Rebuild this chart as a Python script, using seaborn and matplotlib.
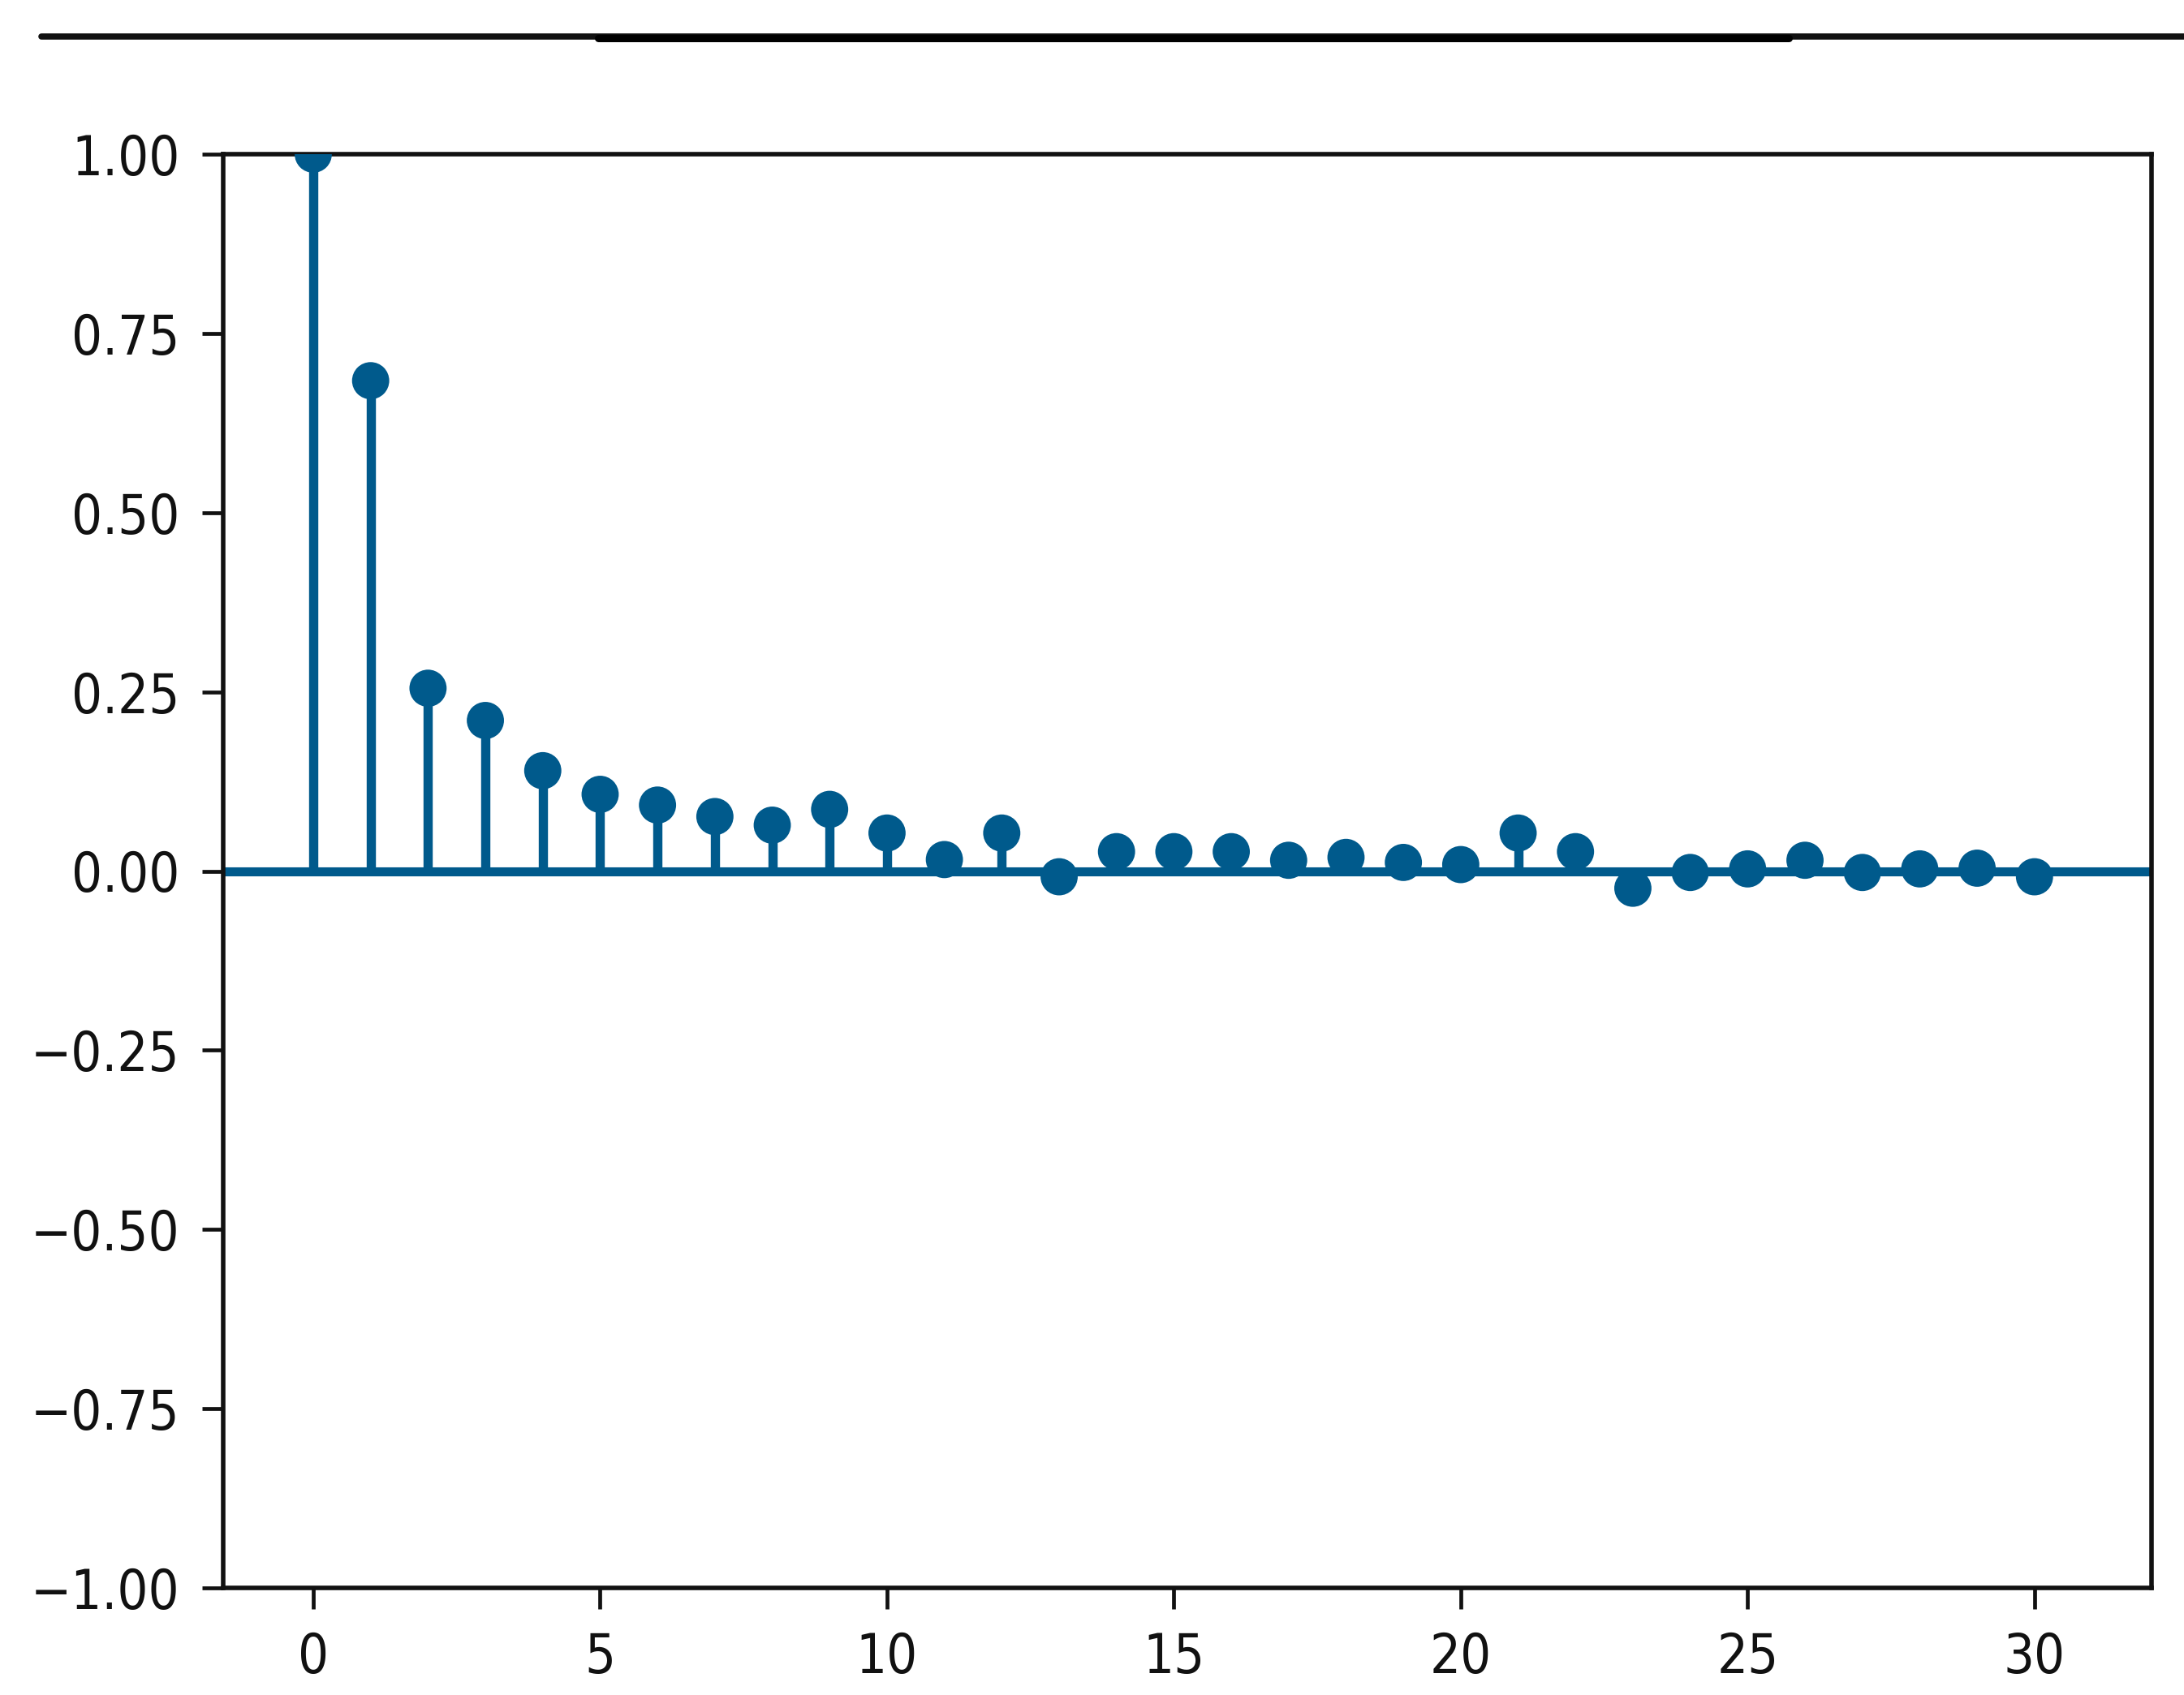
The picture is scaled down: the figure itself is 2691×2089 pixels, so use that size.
import matplotlib
matplotlib.use("Agg")
import matplotlib.pyplot as plt
import seaborn as sns
import numpy as np
import pandas as pd
from matplotlib.lines import Line2D
from matplotlib import font_manager

# ---- data ----
lags = list(range(31))
acf_values = [1.000, 0.684, 0.255, 0.210, 0.140, 0.107, 0.092, 0.076, 0.064, 0.086,
              0.053, 0.016, 0.053, -0.008, 0.027, 0.027, 0.027, 0.015, 0.019, 0.012,
              0.009, 0.053, 0.027, -0.024, -0.002, 0.003, 0.015, -0.002, 0.003, 0.004,
              -0.008]
x_ticks = [0, 5, 10, 15, 20, 25, 30]
y_ticks = [-1.00, -0.75, -0.50, -0.25, 0.00, 0.25, 0.50, 0.75, 1.00]

df = pd.DataFrame({"lag": lags, "acf": acf_values})

sns.set_style("ticks")
plt.rcParams['font.family'] = ['DejaVu Sans']

names = {f.name for f in font_manager.fontManager.ttflist}
condensed = any(f.name == "DejaVu Sans" and f.stretch in ("condensed", 300, "semi-condensed")
                for f in font_manager.fontManager.ttflist)
print("condensed available:", condensed)
if condensed:
    plt.rcParams['font.stretch'] = 'condensed'
    LABEL_SIZE = 48
else:
    LABEL_SIZE = 45

COLOR = "#005a8c"
DPI = 100
fig = plt.figure(figsize=(26.91, 20.89), dpi=DPI)
ax = fig.add_axes([275 / 2691, 1 - 1957 / 2089, (2651 - 275) / 2691, (1957 - 190) / 2089])

ax.axhline(0, color=COLOR, lw=8.0, zorder=2)
ax.vlines(df["lag"], 0, df["acf"], color=COLOR, lw=8.2, zorder=2)
sns.scatterplot(data=df, x="lag", y="acf", ax=ax, color=COLOR, s=33 ** 2,
                edgecolor="none", linewidth=0, zorder=3, legend=False)

ax.set_xlim(-1.57, 32.04)
ax.set_ylim(-1.0, 1.0)
ax.set_xticks(x_ticks)
ax.set_yticks(y_ticks)
ax.set_yticklabels([f"{v:.2f}".replace("-", "\u2212") for v in y_ticks])
ax.set_xlabel("")
ax.set_ylabel("")
ax.tick_params(axis="both", labelsize=LABEL_SIZE, length=18.5, width=3.4, pad=20, colors="#111111")
for sp in ax.spines.values():
    sp.set_visible(True)
    sp.set_linewidth(4.0)
    sp.set_color("#111111")

# top separator line seen in the reference screenshot
fig.add_artist(Line2D([51 / 2691, 1.0], [1 - 45 / 2089, 1 - 45 / 2089],
                      transform=fig.transFigure, color="#111111", lw=5.5))
fig.add_artist(Line2D([737 / 2691, 2204 / 2691], [1 - 47 / 2089, 1 - 47 / 2089],
                      transform=fig.transFigure, color="#000000", lw=6.5))

fig.savefig("out.png", dpi=DPI, facecolor="white")
